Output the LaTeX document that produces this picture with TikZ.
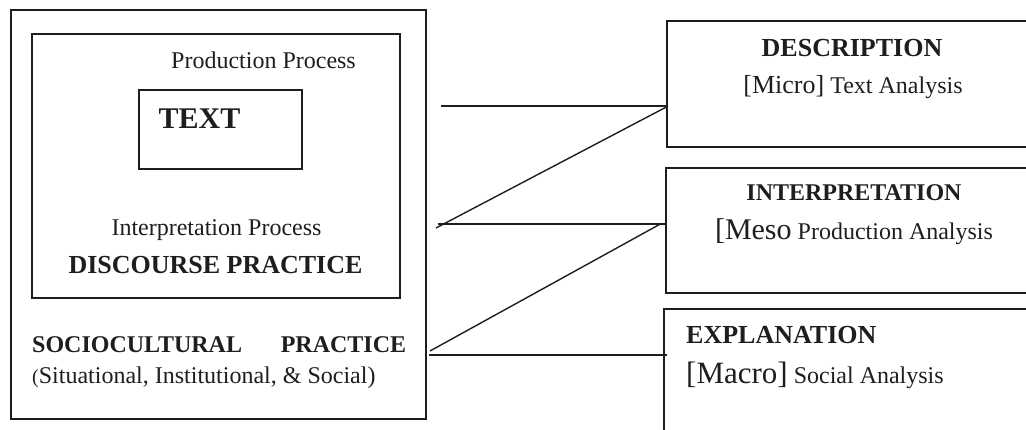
\documentclass[tikz,border=0pt]{standalone}
\usepackage{fontspec}
\setmainfont{Liberation Serif}
\usetikzlibrary{positioning,calc}
\definecolor{inkcolor}{RGB}{30,30,30}
\newcommand{\pxfont}[1]{\fontsize{#1}{#1}\selectfont}
\tikzset{
  panel/.style = {rectangle, draw=inkcolor, line width=1.3pt, inner sep=0pt},
  plain/.style = {text=inkcolor, inner sep=0pt, font=\pxfont{24}},
  heavy/.style = {text=inkcolor, inner sep=0pt, font=\bfseries\pxfont{26}},
  conn/.style  = {draw=inkcolor, line width=1.4pt},
  thick conn/.style = {conn, line width=2.8pt}
}

\begin{document}
\begin{tikzpicture}[x=1pt,y=-1pt]
\useasboundingbox (0,0) rectangle (1026,430);
\clip (0,0) rectangle (1026,430);

% --- left side: nested practices ---
\node[panel, minimum width=415pt, minimum height=409pt] (socio) at (218.5,214.5) {};
\node[panel, minimum width=368pt, minimum height=264pt] (disc) at (216,166) {};
\node[panel, minimum width=163pt, minimum height=79pt] (text) at (220.5,129.5) {};

\node[plain] (prod) at (263.5,60) {Production Process};
\node[heavy, font=\bfseries\pxfont{30}] (textlbl) at (199.5,119) {TEXT};
\node[plain] (interp) at (216.5,230) {Interpretation Process};
\node[heavy] (disclbl) at (215.5,265) {DISCOURSE PRACTICE};
\node[heavy, font=\bfseries\pxfont{24}, anchor=west] (sociolbl) at (32,345)
  {\makebox[374pt][s]{SOCIOCULTURAL\hfill PRACTICE}};
\node[plain, anchor=west] (sociosub) at (32,378)
  {{\pxfont{20}(}Situational, Institutional, \& Social)};

% --- right side: dimensions of analysis ---
\node[panel, minimum width=373pt, minimum height=126pt] (desc) at (853.5,84) {};
\node[panel, minimum width=374pt, minimum height=125pt] (inter) at (853,230.5) {};
\node[panel, minimum width=376pt, minimum height=141pt] (expl) at (852,379.5) {};

\node[heavy] (desclbl) at (852,48) {DESCRIPTION};
\node[plain] (descsub) at (853,87) {{\pxfont{26}[Micro]} Text Analysis};
\node[heavy, font=\bfseries\pxfont{24}] (interlbl) at (854,193) {INTERPRETATION};
\node[plain] (intersub) at (854,232) {{\pxfont{30}[Meso} Production Analysis};
\node[heavy, anchor=west] (expllbl) at (686,335) {EXPLANATION};
\node[plain, anchor=west] (explsub) at (686,375) {{\pxfont{31}[Macro]} Social Analysis};

% --- connectors ---
\coordinate (a1) at (441,106);
\coordinate (a2) at (436,228);
\coordinate (a3) at (438,224);
\coordinate (a4) at (430,351);
\coordinate (a5) at (429,355);
\coordinate (b1) at ($(desc.west |- a1)+(1,0)$);
\coordinate (b2) at ($(desc.west |- a1)+(0,1)$);
\coordinate (b3) at (inter.west |- a3);
\coordinate (b4) at ($(inter.west |- a3)+(-5,0)$);
\coordinate (b5) at ($(expl.west |- a5)+(4,0)$);

\draw[conn] (a1) -- (b1);
\draw[conn] (a2) -- (b2);
\draw[conn] (a3) -- (b3);
\draw[conn] (a4) -- (b4);
\draw[thick conn] (a5) -- (b5);

\end{tikzpicture}
\end{document}
